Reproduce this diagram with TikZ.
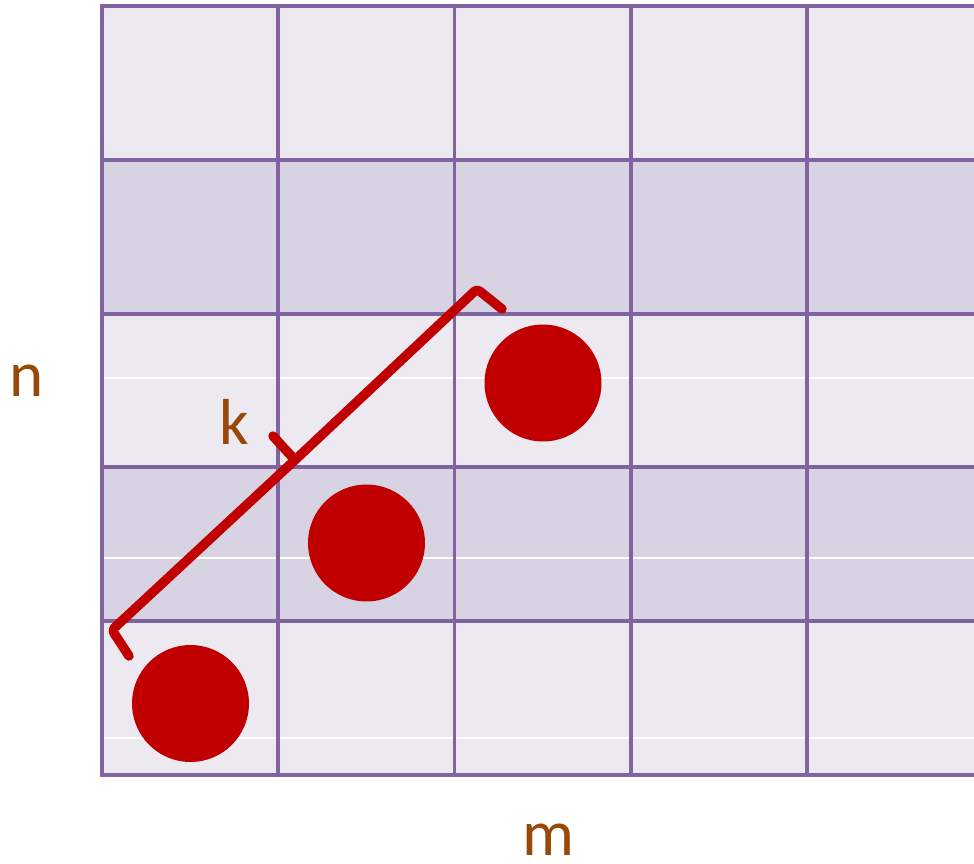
\documentclass[tikz,border=0pt]{standalone}
\usepackage{fontspec}
\setmainfont{Carlito}
\definecolor{gridpurple}{RGB}{128,100,162}
\definecolor{celllight}{RGB}{236,233,240}
\definecolor{celldark}{RGB}{216,211,226}
\definecolor{dotred}{RGB}{192,0,0}
\definecolor{labelbrown}{RGB}{152,72,7}
\usetikzlibrary{positioning}

\begin{document}
\begin{tikzpicture}[
    x=0.02cm, y=-0.02cm,
    gridline/.style={draw=gridpurple, line width=2.2pt, line cap=rect},
    dot/.style={circle, fill=dotred, minimum size=2.34cm, inner sep=0pt},
    axislabel/.style={text=labelbrown, inner sep=0pt, font=\fontsize{37}{43}\selectfont},
    bracket/.style={draw=dotred, line width=5.4pt, line cap=round, line join=round, rounded corners=2pt},
  ]
    \useasboundingbox (0,0) rectangle (974,863);
    % striped rows
    \foreach \r/\c in {0/celllight,1/celldark,2/celllight,3/celldark,4/celllight}
      \fill[\c] (102,6+153.8*\r) rectangle (974,159.8+153.8*\r);
    \foreach \y in {378,558,738}
      \draw[white, line width=0.8pt] (102,\y) -- (974,\y);
    % grid
    \foreach \i in {0,...,5}
      \draw[gridline] (102,6+153.8*\i) -- (974,6+153.8*\i);
    \foreach \i in {0,...,4}
      \draw[gridline] (102+176.25*\i,6) -- (102+176.25*\i,775);

    \node[dot] (dot1) at (190.5,703.5) {};
    \node[dot] (dot2) at (366.5,543) {};
    \node[dot] (dot3) at (543,383) {};

    % brace
    \coordinate (bstart) at (129,656);
    \coordinate (blow) at (112,630);
    \coordinate (bmid) at (295,460);
    \coordinate (btip) at (273,436);
    \coordinate (bhigh) at (477,289);
    \coordinate (bend) at (502,309);
    \draw[bracket] (bstart) -- (blow) -- (bmid) -- (bhigh) -- (bend);
    \draw[bracket] (bmid) -- (btip);

    \node[axislabel] (klabel) at (234,422) {k};
    \node[axislabel] (nlabel) at (27,381) {n};
    \node[axislabel] (mlabel) at (548,840) {m};
  \end{tikzpicture}
\end{document}
